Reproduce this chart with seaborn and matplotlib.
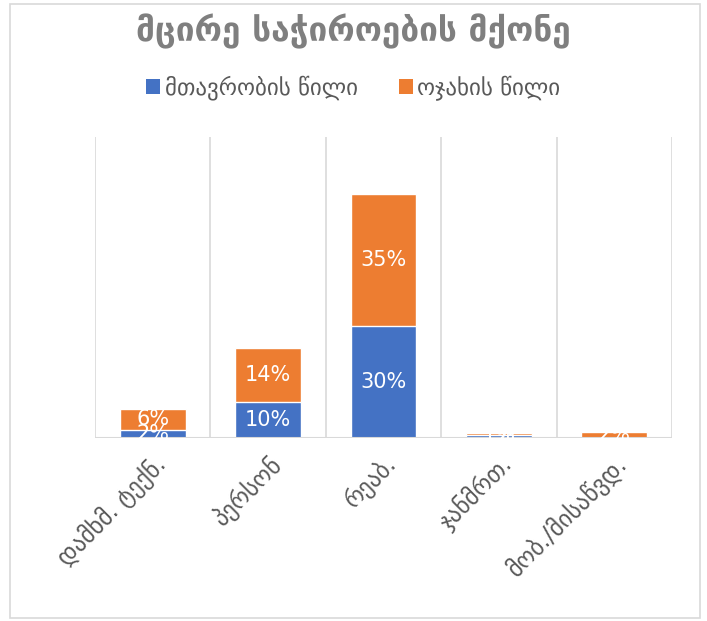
import matplotlib
matplotlib.use("Agg")
import matplotlib.pyplot as plt
import seaborn as sns
import pandas as pd
from matplotlib.patches import Rectangle, Patch

categories = ["დამხმ. ტექნ.", "პერსონ", "რეაბ.", "ჯანმრთ.", "მობ./მისაწვდ."]
gov_share = [0.022, 0.096, 0.297, 0.008, 0.0]
family_share = [0.056, 0.144, 0.352, 0.006, 0.015]
series_names = ["მთავრობის წილი", "ოჯახის წილი"]
title_text = "მცირე საჭიროების მქონე"

BLUE = "#4472c4"
ORANGE = "#ed7d31"
GRID = "#d9d9d9"
TXT = "#595959"

sns.set_style("white")
plt.rcParams["font.family"] = ["DejaVu Sans"]

df = pd.DataFrame({
    "cat": categories,
    "gov": gov_share,
    "fam": family_share,
})
df["total"] = df["gov"] + df["fam"]

fig = plt.figure(figsize=(7.07, 6.21), dpi=100)
ax = fig.add_axes([95/707, 1-438/621, (672-95)/707, (438-137)/621])

sns.barplot(data=df, x="cat", y="total", color=ORANGE, width=0.57,
            saturation=1, ax=ax, zorder=2)
sns.barplot(data=df, x="cat", y="gov", color=BLUE, width=0.57,
            saturation=1, ax=ax, zorder=3)

ax.set_ylim(0, 0.8)
ax.set_xlim(-0.5, len(categories) - 0.5)
for xb in [i - 0.5 for i in range(len(categories) + 1)]:
    ax.axvline(xb, color=GRID, lw=1.2, zorder=1)
ax.axhline(0, color=GRID, lw=1.5, zorder=4)
for s in ax.spines.values():
    s.set_visible(False)
ax.set_yticks([])
ax.set_xlabel("")
ax.set_ylabel("")
ax.tick_params(axis="x", length=0, pad=9)
ax.set_xticks(range(len(categories)))
ax.set_xticklabels(categories, rotation=45, ha="right", rotation_mode="anchor",
                   fontsize=17, color=TXT)

for i, (g, f) in enumerate(zip(gov_share, family_share)):
    if g > 0:
        ax.text(i, g/2, f"{round(g*100):.0f}%", ha="center", va="center",
                color="white", fontsize=15, zorder=5, clip_on=True)
    if f > 0:
        ax.text(i, g + f/2, f"{round(f*100):.0f}%", ha="center", va="center",
                color="white", fontsize=15, zorder=5, clip_on=True)

fig.text(0.5, 1-31/621, title_text, ha="center", va="center",
         fontsize=24, fontweight="bold", color="#7f7f7f")

handles = [Patch(facecolor=BLUE, edgecolor="none"),
           Patch(facecolor=ORANGE, edgecolor="none")]
leg = fig.legend(handles, series_names, loc="center", ncol=2,
                 bbox_to_anchor=(0.5, 1-88/621), frameon=False, fontsize=16.5,
                 handlelength=0.6, handleheight=0.6, handletextpad=0.2,
                 columnspacing=1.8)
for t in leg.get_texts():
    t.set_color(TXT)

fig.patches.append(Rectangle((10/707, 3/621), 690/707, 614/621,
                             transform=fig.transFigure, fill=False,
                             edgecolor=GRID, lw=1.2))

fig.savefig("out.png", dpi=100)
